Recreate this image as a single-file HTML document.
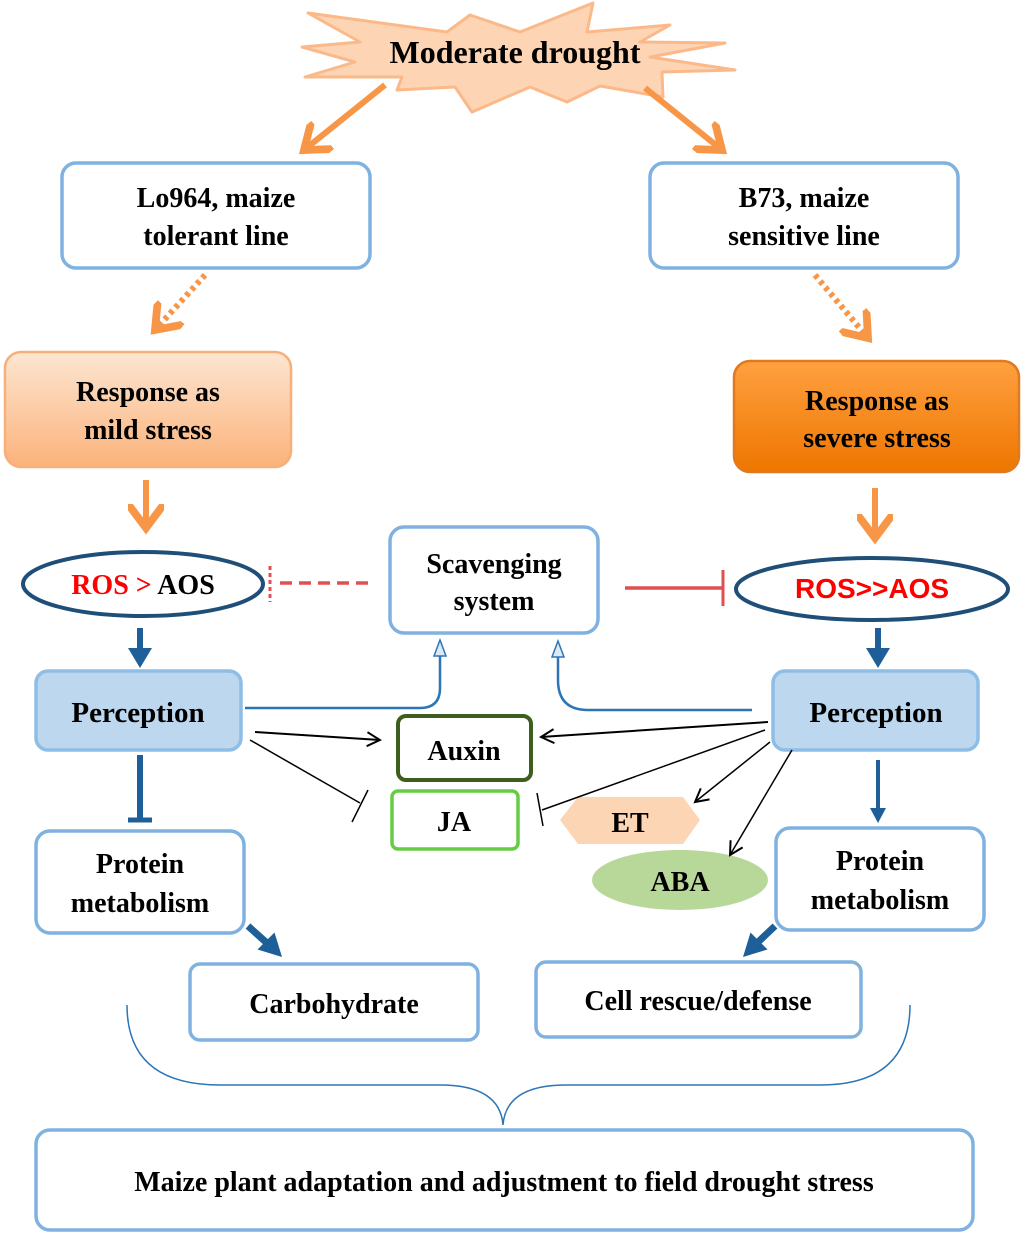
<!DOCTYPE html>
<html><head><meta charset="utf-8"><style>
body{margin:0;background:#fff}
svg{display:block}
text{font-family:"Liberation Serif",serif;font-weight:bold;text-anchor:middle}
</style></head><body>
<svg width="1024" height="1236" viewBox="0 0 1024 1236" xmlns="http://www.w3.org/2000/svg">
<defs>
<linearGradient id="g1" x1="0" y1="0" x2="0" y2="1"><stop offset="0" stop-color="#fde6d2"/><stop offset="1" stop-color="#fbb27a"/></linearGradient>
<linearGradient id="g2" x1="0" y1="0" x2="0" y2="1"><stop offset="0" stop-color="#ffa040"/><stop offset="1" stop-color="#ee7600"/></linearGradient>
<marker id="ao" markerWidth="6" markerHeight="6" refX="4" refY="3" orient="auto" markerUnits="strokeWidth"><path d="M0,0 L4,3 L0,6" fill="none" stroke="#f79646" stroke-width="1.3"/></marker>
<marker id="ak" markerWidth="16" markerHeight="16" refX="14" refY="8" orient="auto" markerUnits="userSpaceOnUse"><path d="M1,1 L14,8 L1,15" fill="none" stroke="#000" stroke-width="2"/></marker>
</defs>

<!-- star -->
<polygon points="308,13 447,32 470,15 520,32 593,3 587,32 670,25 640,42 725,43 650,57 735,70 662,72 663,97 600,86 567,102 530,87 472,112 455,87 397,90 402,77 305,77 355,62 302,47 360,42" fill="#fdd5b4" stroke="#fbb98a" stroke-width="3" stroke-linejoin="round"/>
<text x="515" y="63" font-size="32" fill="#000">Moderate drought</text>

<!-- orange arrows -->
<line x1="385" y1="85" x2="304" y2="150" stroke="#f79646" stroke-width="6" marker-end="url(#ao)"/>
<line x1="645" y1="88" x2="722" y2="150" stroke="#f79646" stroke-width="6" marker-end="url(#ao)"/>
<line x1="205" y1="275" x2="155" y2="330" stroke="#f79646" stroke-width="6" stroke-dasharray="4,4" marker-end="url(#ao)"/>
<line x1="815" y1="275" x2="868" y2="338" stroke="#f79646" stroke-width="6" stroke-dasharray="4,4" marker-end="url(#ao)"/>
<line x1="146" y1="480" x2="146" y2="528" stroke="#f79646" stroke-width="6" marker-end="url(#ao)"/>
<line x1="875" y1="488" x2="875" y2="538" stroke="#f79646" stroke-width="6" marker-end="url(#ao)"/>

<!-- top boxes -->
<rect x="62" y="163" width="308" height="105" rx="14" fill="#fff" stroke="#7fb2e0" stroke-width="3.5"/>
<text x="216" y="207" font-size="28" fill="#000">Lo964, maize</text>
<text x="216" y="245" font-size="28" fill="#000">tolerant line</text>
<rect x="650" y="163" width="308" height="105" rx="14" fill="#fff" stroke="#7fb2e0" stroke-width="3.5"/>
<text x="804" y="207" font-size="28" fill="#000">B73, maize</text>
<text x="804" y="245" font-size="28" fill="#000">sensitive line</text>

<rect x="5" y="352" width="286" height="115" rx="16" fill="url(#g1)" stroke="#f8b07a" stroke-width="2.5"/>
<text x="148" y="401" font-size="28" fill="#000">Response as</text>
<text x="148" y="439" font-size="28" fill="#000">mild stress</text>
<rect x="734" y="361" width="285" height="111" rx="16" fill="url(#g2)" stroke="#e07a20" stroke-width="2.5"/>
<text x="877" y="410" font-size="28" fill="#000">Response as</text>
<text x="877" y="447" font-size="28" fill="#000">severe stress</text>

<!-- ROS ellipses -->
<ellipse cx="143" cy="584" rx="120" ry="32" fill="#fff" stroke="#1f4e79" stroke-width="4"/>
<text x="143" y="594" font-size="28" fill="#000"><tspan fill="#ff0000">ROS </tspan><tspan fill="#ff0000">&gt;</tspan> AOS</text>
<ellipse cx="872" cy="589" rx="136" ry="31" fill="#fff" stroke="#1f4e79" stroke-width="4"/>
<text x="872" y="598" font-size="28" fill="#ff0000" style="font-family:'Liberation Sans',sans-serif">ROS&gt;&gt;AOS</text>

<rect x="390" y="527" width="208" height="106" rx="14" fill="#fff" stroke="#7fb2e0" stroke-width="3.5"/>
<text x="494" y="573" font-size="28" fill="#000">Scavenging</text>
<text x="494" y="610" font-size="28" fill="#000">system</text>

<line x1="368" y1="583" x2="274" y2="583" stroke="#e05050" stroke-width="3.5" stroke-dasharray="12,7"/>
<line x1="270" y1="566" x2="270" y2="602" stroke="#e05050" stroke-width="3" stroke-dasharray="4,3"/>
<line x1="625" y1="588" x2="722" y2="588" stroke="#e05050" stroke-width="3.5"/>
<line x1="723" y1="570" x2="723" y2="606" stroke="#e05050" stroke-width="3"/>

<!-- blue thick arrows -->
<line x1="140" y1="628" x2="140" y2="652" stroke="#1f5f99" stroke-width="6"/>
<polygon points="128,648 152,648 140,668" fill="#1f5f99"/>
<line x1="878" y1="628" x2="878" y2="652" stroke="#1f5f99" stroke-width="6"/>
<polygon points="866,648 890,648 878,668" fill="#1f5f99"/>

<!-- perception -->
<rect x="36" y="671" width="205" height="79" rx="12" fill="#bdd7ee" stroke="#8ebde6" stroke-width="3.5"/>
<text x="138" y="722" font-size="29" fill="#000">Perception</text>
<rect x="773" y="671" width="205" height="79" rx="12" fill="#bdd7ee" stroke="#8ebde6" stroke-width="3.5"/>
<text x="876" y="722" font-size="29" fill="#000">Perception</text>

<!-- blue curves -->
<path d="M245,708 L420,708 Q440,708 440,688 L440,655" fill="none" stroke="#2e75b6" stroke-width="2.5"/>
<polygon points="434,656 446,656 440,640" fill="#dceaf7" stroke="#2e75b6" stroke-width="1.5"/>
<path d="M752,710 L588,710 Q558,710 558,680 L558,657" fill="none" stroke="#2e75b6" stroke-width="2.5"/>
<polygon points="552,657 564,657 558,641" fill="#dceaf7" stroke="#2e75b6" stroke-width="1.5"/>

<!-- T and arrow down -->
<line x1="140" y1="755" x2="140" y2="818" stroke="#1f5f99" stroke-width="6"/>
<line x1="128" y1="820" x2="152" y2="820" stroke="#1f5f99" stroke-width="5"/>
<line x1="878" y1="760" x2="878" y2="810" stroke="#1f5f99" stroke-width="4"/>
<polygon points="870,808 886,808 878,823" fill="#1f5f99"/>

<!-- Auxin JA ET ABA -->
<rect x="398" y="716" width="133" height="64" rx="8" fill="#fff" stroke="#3d5e1c" stroke-width="4"/>
<text x="464" y="760" font-size="28" fill="#000">Auxin</text>
<rect x="392" y="791" width="126" height="58" rx="6" fill="#fff" stroke="#66cc44" stroke-width="3.5"/>
<text x="454" y="831" font-size="28" fill="#000">JA</text>
<polygon points="560,820 578,797 683,797 700,820 683,844 578,844" fill="#fcd5b4"/>
<text x="630" y="832" font-size="28" fill="#000">ET</text>
<ellipse cx="680" cy="880" rx="88" ry="30" fill="#b8d89a"/>
<text x="680" y="891" font-size="28" fill="#000">ABA</text>

<!-- black lines -->
<line x1="255" y1="732" x2="380" y2="740" stroke="#000" stroke-width="2" marker-end="url(#ak)"/>
<line x1="250" y1="740" x2="360" y2="803" stroke="#000" stroke-width="1.5"/>
<line x1="352" y1="822" x2="368" y2="790" stroke="#000" stroke-width="1.5"/>
<line x1="768" y1="722" x2="541" y2="737" stroke="#000" stroke-width="2" marker-end="url(#ak)"/>
<line x1="765" y1="730" x2="542" y2="810" stroke="#000" stroke-width="1.5"/>
<line x1="537" y1="793" x2="543" y2="826" stroke="#000" stroke-width="1.5"/>
<line x1="770" y1="742" x2="695" y2="802" stroke="#000" stroke-width="1.5" marker-end="url(#ak)"/>
<line x1="792" y1="750" x2="730" y2="855" stroke="#000" stroke-width="1.5" marker-end="url(#ak)"/>

<!-- protein -->
<rect x="36" y="831" width="208" height="102" rx="14" fill="#fff" stroke="#7fb2e0" stroke-width="3.5"/>
<text x="140" y="873" font-size="28" fill="#000">Protein</text>
<text x="140" y="912" font-size="28" fill="#000">metabolism</text>
<rect x="776" y="828" width="208" height="102" rx="14" fill="#fff" stroke="#7fb2e0" stroke-width="3.5"/>
<text x="880" y="870" font-size="28" fill="#000">Protein</text>
<text x="880" y="909" font-size="28" fill="#000">metabolism</text>

<line x1="248" y1="926" x2="268" y2="944" stroke="#1f5f99" stroke-width="7"/>
<polygon points="282,957 257.5,949.5 274.5,932.5" fill="#1f5f99"/>
<line x1="775" y1="926" x2="756" y2="944" stroke="#1f5f99" stroke-width="7"/>
<polygon points="743,957 767.5,949.5 750.5,932.5" fill="#1f5f99"/>

<rect x="190" y="964" width="288" height="76" rx="10" fill="#fff" stroke="#7fb2e0" stroke-width="3.5"/>
<text x="334" y="1013" font-size="28" fill="#000">Carbohydrate</text>
<rect x="536" y="962" width="325" height="75" rx="10" fill="#fff" stroke="#7fb2e0" stroke-width="3.5"/>
<text x="698" y="1010" font-size="28" fill="#000">Cell rescue/defense</text>

<!-- brace -->
<path d="M127,1005 Q127,1085 220,1085 L440,1085 Q500,1085 503,1125 Q506,1085 566,1085 L820,1085 Q910,1085 910,1005" fill="none" stroke="#2e75b6" stroke-width="1.5"/>

<rect x="36" y="1130" width="937" height="100" rx="14" fill="#fff" stroke="#7fb2e0" stroke-width="3.5"/>
<text x="504" y="1191" font-size="28" fill="#000">Maize plant adaptation and adjustment to field drought stress</text>
</svg>
</body></html>
